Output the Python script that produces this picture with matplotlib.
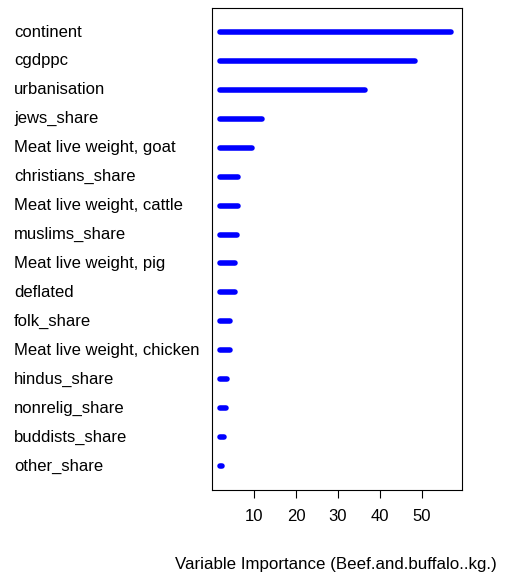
import matplotlib
matplotlib.use("Agg")
import matplotlib.pyplot as plt
from matplotlib.transforms import blended_transform_factory

plt.rcParams['font.family'] = ['Liberation Sans', 'DejaVu Sans']

variables = ["continent", "cgdppc", "urbanisation", "jews_share", "Meat live weight, goat",
             "christians_share", "Meat live weight, cattle", "muslims_share", "Meat live weight, pig",
             "deflated", "folk_share", "Meat live weight, chicken", "hindus_share", "nonrelig_share",
             "buddists_share", "other_share"]
importance = [56.9, 48.3, 36.4, 11.9, 9.5, 6.2, 6.2, 6.0, 5.5, 5.5, 4.3, 4.3, 3.6, 3.3, 2.9, 2.4]
baseline = 1.9

fig = plt.figure(figsize=(5.06, 5.82), dpi=100)
ax = fig.add_axes([212/506, 92/582, 250/506, 482/582])
n = len(variables)
ys = list(range(n, 0, -1))
for y, v in zip(ys, importance):
    ax.plot([baseline, v], [y, y], color="#0000ff", lw=4, solid_capstyle="round")
ax.set_xlim(0, 59.5)
ax.set_ylim(0.17, n + 0.83)
ax.set_yticks([])
ax.set_xticks([10, 20, 30, 40, 50])
ax.tick_params(axis="x", labelsize=12, length=6, pad=8)
for s in ax.spines.values():
    s.set_linewidth(0.8)
tr = blended_transform_factory(fig.transFigure, ax.transData)
for y, name in zip(ys, variables):
    ax.text(14/506, y, name, transform=tr, ha="left", va="center", fontsize=12, clip_on=False)
fig.text(336/506, 1 - 565/582, "Variable Importance (Beef.and.buffalo..kg.)", ha="center", va="center", fontsize=12.2)
fig.savefig("out.png", dpi=100)
